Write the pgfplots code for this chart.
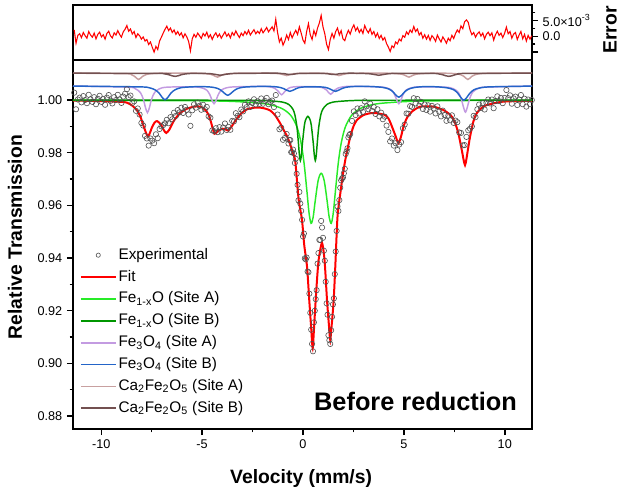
\documentclass[border=0pt]{standalone}
\usepackage{pgfplots}
\usepackage{pgfplotstable}
\pgfplotsset{compat=1.18}
\usepackage{fontspec}
\setmainfont{Liberation Sans}

\definecolor{fitred}{RGB}{255,0,0}
\definecolor{feoA}{RGB}{40,235,40}
\definecolor{feoB}{RGB}{0,150,0}
\definecolor{magA}{RGB}{195,155,225}
\definecolor{magB}{RGB}{35,100,200}
\definecolor{cfoA}{RGB}{200,160,160}
\definecolor{cfoB}{RGB}{115,80,80}
\definecolor{datgray}{RGB}{80,80,80}

% experimental spectrum
\pgfplotstableread{
x y
-11.34 1.0028
-11.25 0.9965
-11.16 1.0002
-11.07 1.0009
-10.98 0.9991
-10.89 1.0015
-10.80 1.0000
-10.71 0.9988
-10.62 1.0020
-10.53 1.0003
-10.44 0.9993
-10.35 1.0011
-10.26 0.9984
-10.17 1.0005
-10.08 1.0016
-9.99 0.9993
-9.90 1.0004
-9.81 0.9982
-9.72 1.0009
-9.63 1.0019
-9.54 0.9997
-9.45 0.9987
-9.36 1.0011
-9.27 1.0000
-9.18 1.0020
-9.09 1.0002
-9.00 0.9989
-8.91 1.0013
-8.82 1.0024
-8.73 1.0041
-8.64 1.0011
-8.55 1.0017
-8.46 0.9989
-8.37 0.9995
-8.28 0.9959
-8.19 0.9968
-8.10 0.9945
-8.01 0.9913
-7.92 0.9903
-7.83 0.9864
-7.74 0.9854
-7.65 0.9827
-7.56 0.9854
-7.47 0.9846
-7.38 0.9836
-7.29 0.9870
-7.20 0.9855
-7.11 0.9890
-7.02 0.9900
-6.93 0.9905
-6.84 0.9912
-6.75 0.9925
-6.66 0.9912
-6.57 0.9935
-6.48 0.9927
-6.39 0.9952
-6.30 0.9940
-6.21 0.9962
-6.12 0.9953
-6.03 0.9971
-5.94 0.9951
-5.85 0.9974
-5.76 0.9963
-5.67 0.9945
-5.58 0.9902
-5.49 0.9961
-5.40 0.9984
-5.31 0.9971
-5.22 0.9990
-5.13 0.9978
-5.04 0.9963
-4.95 0.9982
-4.86 0.9965
-4.77 0.9974
-4.68 0.9938
-4.59 0.9933
-4.50 0.9885
-4.41 0.9882
-4.32 0.9893
-4.23 0.9878
-4.14 0.9897
-4.05 0.9880
-3.96 0.9896
-3.87 0.9911
-3.78 0.9886
-3.69 0.9898
-3.60 0.9887
-3.51 0.9921
-3.42 0.9919
-3.33 0.9950
-3.24 0.9940
-3.15 0.9935
-3.06 0.9964
-2.97 0.9957
-2.88 0.9982
-2.79 0.9973
-2.70 0.9995
-2.61 0.9974
-2.52 0.9989
-2.43 1.0003
-2.34 0.9983
-2.25 0.9995
-2.16 0.9985
-2.07 1.0006
-1.98 0.9986
-1.89 0.9997
-1.80 1.0008
-1.71 0.9984
-1.62 0.9993
-1.53 0.9998
-1.44 0.9973
-1.35 1.0019
-1.26 0.9945
-1.17 0.9889
-1.08 0.9895
-0.99 0.9849
-0.90 0.9856
-0.81 0.9871
-0.72 0.9835
-0.63 0.9848
-0.54 0.9802
-0.45 0.9797
-0.36 0.9777
-0.27 0.9678
-0.18 0.9651
-0.09 0.9579
0.00 0.9482
0.09 0.9399
0.18 0.9402
0.27 0.9346
0.36 0.9192
0.45 0.9074
0.54 0.9156
0.63 0.9244
0.72 0.9379
0.81 0.9469
0.90 0.9541
0.99 0.9477
1.08 0.9390
1.17 0.9228
1.26 0.9107
1.35 0.9074
1.44 0.9177
1.53 0.9247
1.62 0.9425
1.71 0.9596
1.80 0.9620
1.89 0.9695
1.98 0.9706
2.07 0.9739
2.16 0.9805
2.25 0.9858
2.34 0.9871
2.43 0.9921
2.52 0.9957
2.61 0.9943
2.70 0.9968
2.79 0.9949
2.88 0.9969
2.97 0.9955
3.06 0.9995
3.15 0.9976
3.24 0.9965
3.33 0.9986
3.42 0.9959
3.51 0.9973
3.60 0.9947
3.69 0.9965
3.78 0.9938
3.87 0.9952
3.96 0.9927
4.05 0.9937
4.14 0.9903
4.23 0.9879
4.32 0.9843
4.41 0.9854
4.50 0.9827
4.59 0.9836
4.68 0.9810
4.77 0.9831
4.86 0.9840
4.95 0.9893
5.04 0.9907
5.13 0.9949
5.22 0.9948
5.31 0.9977
5.40 0.9974
5.49 1.0007
5.58 0.9987
5.67 1.0004
5.76 0.9979
5.85 0.9993
5.94 0.9966
6.03 0.9983
6.12 0.9962
6.21 0.9980
6.30 0.9956
6.39 0.9978
6.48 0.9968
6.57 0.9949
6.66 0.9976
6.75 0.9956
6.84 0.9938
6.93 0.9960
7.02 0.9943
7.11 0.9921
7.20 0.9941
7.29 0.9923
7.38 0.9942
7.47 0.9913
7.56 0.9922
7.65 0.9916
7.74 0.9877
7.83 0.9875
7.92 0.9828
8.01 0.9829
8.10 0.9860
8.19 0.9885
8.28 0.9891
8.37 0.9900
8.46 0.9940
8.55 0.9935
8.64 0.9965
8.73 0.9983
8.82 0.9970
8.91 0.9988
9.00 0.9964
9.09 0.9989
9.18 1.0002
9.27 0.9987
9.36 1.0002
9.45 0.9969
9.54 0.9996
9.63 1.0014
9.72 0.9996
9.81 1.0008
9.90 0.9988
9.99 1.0008
10.08 1.0038
10.17 1.0007
10.26 1.0018
10.35 0.9986
10.44 1.0006
10.53 1.0013
10.62 0.9981
10.71 1.0002
10.80 1.0019
10.89 0.9984
10.98 1.0005
11.07 0.9975
11.16 1.0002
11.25 0.9984
11.34 1.0000
-0.675 0.9848
-0.585 0.9802
-0.495 0.9812
-0.405 0.9761
-0.315 0.9720
-0.225 0.9619
-0.135 0.9607
-0.045 0.9545
0.045 0.9493
0.135 0.9395
0.225 0.9349
0.315 0.9265
0.405 0.9128
0.495 0.9046
0.585 0.9200
0.675 0.9278
0.765 0.9419
0.855 0.9469
0.945 0.9516
1.035 0.9428
1.125 0.9310
1.215 0.9185
1.305 0.9088
1.395 0.9126
1.485 0.9224
1.575 0.9339
1.665 0.9503
1.755 0.9579
1.845 0.9667
1.935 0.9702
2.025 0.9722
2.115 0.9795
2.205 0.9817
2.295 0.9867
}\expdata

% residual, in units of 1e-3
\pgfplotstableread{
x e
-11.34 2.0
-11.25 -2.2
-11.16 0.3
-11.07 0.8
-10.98 -0.4
-10.89 1.2
-10.80 0.2
-10.71 -0.6
-10.62 1.5
-10.53 0.4
-10.44 -0.3
-10.35 1.0
-10.26 -0.8
-10.17 0.6
-10.08 1.3
-9.99 -0.2
-9.90 0.5
-9.81 -0.9
-9.72 0.9
-9.63 1.6
-9.54 0.1
-9.45 -0.5
-9.36 1.1
-9.27 0.4
-9.18 1.8
-9.09 0.6
-9.00 -0.3
-8.91 1.4
-8.82 2.2
-8.73 3.4
-8.64 1.6
-8.55 2.3
-8.46 0.7
-8.37 1.5
-8.28 -0.4
-8.19 0.8
-8.10 0.2
-8.01 -0.9
-7.92 -0.2
-7.83 -1.5
-7.74 -1.0
-7.65 -2.6
-7.56 -1.8
-7.47 -3.5
-7.38 -5.0
-7.29 -3.2
-7.20 -4.2
-7.11 -1.5
-7.02 -0.3
-6.93 1.0
-6.84 2.2
-6.75 3.2
-6.66 1.8
-6.57 2.6
-6.48 1.2
-6.39 2.0
-6.30 0.6
-6.21 1.5
-6.12 0.3
-6.03 1.1
-5.94 -0.5
-5.85 0.8
-5.76 -0.2
-5.67 -1.6
-5.58 -4.6
-5.49 -0.8
-5.40 0.6
-5.31 -0.3
-5.22 1.0
-5.13 0.2
-5.04 -0.7
-4.95 0.9
-4.86 0.1
-4.77 1.3
-4.68 -0.4
-4.59 0.5
-4.50 -1.0
-4.41 0.3
-4.32 1.1
-4.23 -0.2
-4.14 0.7
-4.05 -0.6
-3.96 0.4
-3.87 1.4
-3.78 0.0
-3.69 0.8
-3.60 -0.5
-3.51 1.2
-3.42 0.3
-3.33 1.7
-3.24 0.5
-3.15 -0.4
-3.06 1.0
-2.97 0.2
-2.88 1.5
-2.79 0.6
-2.70 1.9
-2.61 0.4
-2.52 1.3
-2.43 2.1
-2.34 0.8
-2.25 1.6
-2.16 0.9
-2.07 2.4
-1.98 1.1
-1.89 1.9
-1.80 2.8
-1.71 1.4
-1.62 2.2
-1.53 3.0
-1.44 1.7
-1.35 5.4
-1.26 1.2
-1.17 -1.8
-1.08 -0.6
-0.99 -2.8
-0.90 -1.5
-0.81 0.4
-0.72 -1.0
-0.63 1.2
-0.54 -0.5
-0.45 0.8
-0.36 1.9
-0.27 0.6
-0.18 3.0
-0.09 1.0
0.00 -1.2
0.09 -2.2
0.18 1.5
0.27 4.0
0.36 0.5
0.45 -1.0
0.54 1.8
0.63 0.2
0.72 2.6
0.81 4.2
0.90 6.6
0.99 3.0
1.08 0.8
1.17 -2.5
1.26 -4.2
1.35 -1.0
1.44 0.9
1.53 -0.6
1.62 1.5
1.71 2.6
1.80 0.4
1.89 1.8
1.98 -0.8
2.07 -1.4
2.16 0.5
2.25 1.9
2.34 0.7
2.43 2.5
2.52 3.6
2.61 1.8
2.70 2.8
2.79 1.2
2.88 2.2
2.97 0.9
3.06 3.4
3.15 2.0
3.24 1.1
3.33 2.4
3.42 0.6
3.51 1.5
3.60 -0.2
3.69 1.0
3.78 -0.7
3.87 0.3
3.96 -1.2
4.05 -0.4
4.14 -2.3
4.23 -3.4
4.32 -4.8
4.41 -3.0
4.50 -3.6
4.59 -1.8
4.68 -2.4
4.77 -0.9
4.86 -1.5
4.95 0.2
5.04 -0.3
5.13 1.4
5.22 0.6
5.31 2.0
5.40 1.2
5.49 3.1
5.58 1.5
5.67 2.3
5.76 0.4
5.85 1.2
5.94 -0.6
6.03 0.5
6.12 -0.9
6.21 0.3
6.30 -1.3
6.39 0.2
6.48 -0.5
6.57 -1.6
6.66 0.4
6.75 -0.8
6.84 -1.8
6.93 -0.2
7.02 -1.1
7.11 -2.2
7.20 -0.6
7.29 -1.4
7.38 0.3
7.47 -0.7
7.56 0.9
7.65 2.0
7.74 1.2
7.83 3.3
7.92 2.4
8.01 4.6
8.10 5.2
8.19 4.4
8.28 2.0
8.37 0.5
8.46 1.2
8.55 -0.3
8.64 0.8
8.73 1.4
8.82 0.1
8.91 1.0
9.00 -0.8
9.09 0.6
9.18 1.3
9.27 0.2
9.36 1.1
9.45 -1.2
9.54 0.5
9.63 1.6
9.72 0.3
9.81 1.0
9.90 -0.4
9.99 0.9
10.08 2.9
10.17 0.8
10.26 1.5
10.35 -0.6
10.44 0.7
10.53 1.2
10.62 -1.0
10.71 0.4
10.80 1.5
10.89 -0.8
10.98 0.6
11.07 -1.5
11.16 0.3
11.25 -0.9
11.34 0.2
}\errdata

\pgfplotsset{
  moss/.style={
    scale only axis, width=344.25pt,
    xmin=-11.4, xmax=11.35,
    tick align=outside,
    major tick length=4.5pt, minor tick length=2.6pt,
    every tick/.style={black, line width=1.1pt},
    axis line style={line width=1.1pt},
    tick label style={font=\fontsize{9.5}{11}\selectfont},
    /pgf/number format/assume math mode=true,
  },
  lineleg/.style={legend image code/.code={\draw[##1, line width=1.3pt] (0pt,0pt) -- (26pt,0pt);}},
  datleg/.style={legend image code/.code={\draw[##1, mark size=1.6pt] plot coordinates {(13pt,0pt)};}},
}

\begin{document}
\begin{tikzpicture}
\path[use as bounding box] (-54.75pt,-48.75pt) rectangle (413.25pt,321.75pt);

\begin{axis}[moss,
  at={(0,0)}, anchor=south west,
  height=276.75pt,
  ymin=0.8751, ymax=1.0152,
  xtick={-10,-5,0,5,10},
  minor xtick={-7.5,-2.5,2.5,7.5},
  ytick={0.88,0.90,0.92,0.94,0.96,0.98,1.00},
  minor ytick={0.89,0.91,0.93,0.95,0.97,0.99},
  xtick pos=left, ytick pos=left,
  yticklabel style={/pgf/number format/.cd, fixed, fixed zerofill, precision=2},
  xlabel={Velocity (mm/s)},
  ylabel={Relative Transmission},
  label style={font=\fontsize{14.5}{17}\selectfont\bfseries},
  xlabel style={at={(axis description cs:0.497,-0.1328)}, anchor=center},
  ylabel style={at={(axis description cs:-0.1264,0.52)}, anchor=center},
  legend cell align=left,
  legend style={draw=none, fill=none, at={(axis description cs:0.009,0.505)},
    anchor=north west, font=\fontsize{11.5}{13}\selectfont, inner sep=2pt,
    row sep=2pt, nodes={inner sep=1.6pt, text height=8.6pt, text depth=2.6pt}},
]

\addplot[only marks, mark=o, mark size=2pt, mark options={datgray, line width=0.45pt}, datleg]
  table[x=x, y=y] {\expdata};
\addlegendentry{Experimental}

\addplot[fitred, line width=1.5pt, smooth, tension=0.4, lineleg] coordinates {
(-11.4,0.9998) (-10.0,0.9996) (-9.0,0.9993) (-8.72,0.9990) (-8.45,0.9978)
(-8.22,0.9960) (-8.05,0.9935) (-7.89,0.9899) (-7.78,0.9875) (-7.69,0.9862)
(-7.60,0.9873) (-7.48,0.9897) (-7.35,0.9915) (-7.23,0.9920) (-7.05,0.9908)
(-6.90,0.9886) (-6.78,0.9875) (-6.62,0.9888) (-6.41,0.9920) (-6.10,0.9950)
(-5.75,0.9967) (-5.40,0.9975) (-5.08,0.9975) (-4.85,0.9963) (-4.67,0.9943)
(-4.52,0.9905) (-4.39,0.9872) (-4.25,0.9880) (-4.09,0.9888) (-3.90,0.9891)
(-3.72,0.9884) (-3.55,0.9898) (-3.35,0.9922) (-3.05,0.9950) (-2.77,0.9965)
(-2.40,0.9971) (-2.11,0.9971) (-1.85,0.9967) (-1.62,0.9960) (-1.38,0.9942)
(-1.12,0.9910) (-0.95,0.9885) (-0.80,0.9864) (-0.65,0.9835) (-0.50,0.9800)
(-0.38,0.9765) (-0.22,0.9625) (-0.05,0.9545) (0.06,0.9450) (0.20,0.9367)
(0.31,0.9240) (0.40,0.9140) (0.48,0.9058) (0.56,0.9153) (0.66,0.9279)
(0.77,0.9390) (0.94,0.9458) (1.07,0.9390) (1.19,0.9240) (1.29,0.9140)
(1.35,0.9089) (1.43,0.9153) (1.52,0.9240) (1.60,0.9367) (1.71,0.9557)
(1.85,0.9646) (2.01,0.9734) (2.14,0.9790) (2.34,0.9860) (2.50,0.9900)
(2.67,0.9924) (3.00,0.9943) (3.35,0.9950) (3.66,0.9950) (4.07,0.9943)
(4.25,0.9928) (4.41,0.9899) (4.58,0.9865) (4.73,0.9836) (4.86,0.9862)
(4.98,0.9899) (5.15,0.9932) (5.40,0.9956) (5.81,0.9975) (6.47,0.9975)
(6.96,0.9962) (7.20,0.9950) (7.38,0.9937) (7.55,0.9910) (7.70,0.9874)
(7.87,0.9810) (8.03,0.9753) (8.17,0.9810) (8.28,0.9861) (8.45,0.9920)
(8.61,0.9950) (8.85,0.9970) (9.11,0.9981) (9.93,0.9994) (11.4,0.9997)
};
\addlegendentry{Fit}

\addplot[feoA, line width=1.1pt, smooth, tension=0.5, lineleg] coordinates {
(-11.4,0.9999) (-7.8,0.9998) (-6,0.9998) (-4,0.9996) (-3,0.9993) (-2,0.9987)
(-1.5,0.9980) (-1,0.9966) (-0.6,0.9941) (-0.3,0.9898) (-0.1,0.9839)
(0.05,0.9762) (0.2,0.9649) (0.3,0.9571) (0.4,0.9532) (0.5,0.9554)
(0.6,0.9614) (0.75,0.9694) (0.9,0.9722) (1.05,0.9694) (1.2,0.9614)
(1.3,0.9554) (1.4,0.9532) (1.5,0.9571) (1.6,0.9649) (1.75,0.9762)
(1.9,0.9839) (2.1,0.9898) (2.4,0.9941) (2.8,0.9966) (3.3,0.9980)
(3.8,0.9987) (4.8,0.9993) (5.8,0.9996) (7.8,0.9998) (11.4,0.9999)
};
\addlegendentry{Fe\textsubscript{1-x}O (Site A)}

\addplot[feoB, line width=1.1pt, smooth, tension=0.5, lineleg] coordinates {
(-11.4,1.0000) (-3,0.9999) (-2,0.9998) (-1.5,0.9996) (-1.0,0.9992)
(-0.7,0.9983) (-0.5,0.9965) (-0.4,0.9943) (-0.3,0.9897) (-0.23,0.9840)
(-0.18,0.9793) (-0.13,0.9770) (-0.08,0.9791) (-0.03,0.9835) (0.07,0.9905)
(0.14,0.9927) (0.24,0.9938) (0.34,0.9927) (0.41,0.9905) (0.51,0.9835)
(0.56,0.9791) (0.61,0.9770) (0.66,0.9793) (0.71,0.9840) (0.78,0.9897)
(0.88,0.9943) (0.98,0.9965) (1.18,0.9983) (1.48,0.9992) (1.98,0.9996)
(2.48,0.9998) (3.48,0.9999) (11.4,1.0000)
};
\addlegendentry{Fe\textsubscript{1-x}O (Site B)}

\addplot[magA, line width=1.1pt, smooth, tension=0.5, lineleg] coordinates {
(-11.4,1.0053) (-8.71,1.0049) (-8.31,1.0043) (-8.06,1.0028) (-7.91,1.0002)
(-7.81,0.9972) (-7.71,0.9952) (-7.61,0.9972) (-7.51,1.0002) (-7.36,1.0028)
(-7.11,1.0043) (-6.71,1.0049) (-5.41,1.0050) (-5.01,1.0046) (-4.76,1.0037)
(-4.61,1.0019) (-4.51,0.9999) (-4.41,0.9986) (-4.31,0.9999) (-4.21,1.0019)
(-4.06,1.0037) (-3.81,1.0046) (-3.41,1.0050) (-2.06,1.0052) (-1.66,1.0050)
(-1.41,1.0045) (-1.26,1.0036) (-1.16,1.0027) (-1.06,1.0020) (-0.96,1.0027)
(-0.86,1.0036) (-0.71,1.0045) (-0.46,1.0050) (0.15,1.0051) (0.77,1.0050)
(1.02,1.0045) (1.17,1.0038) (1.27,1.0028) (1.37,1.0022) (1.47,1.0028)
(1.57,1.0038) (1.72,1.0045) (1.97,1.0050) (2.37,1.0052) (3.75,1.0050)
(4.15,1.0046) (4.40,1.0037) (4.55,1.0019) (4.65,0.9999) (4.75,0.9986)
(4.85,0.9999) (4.95,1.0019) (5.10,1.0037) (5.35,1.0046) (5.75,1.0050)
(7.05,1.0049) (7.45,1.0043) (7.70,1.0029) (7.85,1.0003) (7.95,0.9974)
(8.05,0.9954) (8.15,0.9974) (8.25,1.0003) (8.40,1.0029) (8.65,1.0043)
(9.05,1.0049) (11.4,1.0053)
};
\addlegendentry{Fe\textsubscript{3}O\textsubscript{4} (Site A)}

\addplot[magB, line width=1.1pt, smooth, tension=0.5, lineleg] coordinates {
(-11.4,1.0053) (-8.14,1.0050) (-7.64,1.0047) (-7.34,1.0039) (-7.14,1.0027)
(-6.99,1.0011) (-6.84,1.0001) (-6.69,1.0011) (-6.54,1.0027) (-6.34,1.0039)
(-6.04,1.0047) (-5.54,1.0050) (-5.03,1.0051) (-4.53,1.0049) (-4.23,1.0044)
(-4.03,1.0035) (-3.88,1.0025) (-3.73,1.0018) (-3.58,1.0025) (-3.43,1.0035)
(-3.23,1.0044) (-2.93,1.0049) (-2.43,1.0051) (-1.95,1.0052) (-1.45,1.0051)
(-1.15,1.0048) (-0.95,1.0043) (-0.80,1.0037) (-0.65,1.0033) (-0.50,1.0037)
(-0.35,1.0043) (-0.15,1.0048) (0.15,1.0050) (0.81,1.0050) (1.11,1.0048)
(1.31,1.0043) (1.46,1.0037) (1.61,1.0033) (1.76,1.0037) (1.91,1.0043)
(2.11,1.0048) (2.41,1.0051) (2.91,1.0052) (3.45,1.0051) (3.95,1.0048)
(4.25,1.0042) (4.45,1.0032) (4.60,1.0019) (4.75,1.0011) (4.90,1.0019)
(5.05,1.0032) (5.25,1.0042) (5.55,1.0048) (6.05,1.0051) (6.67,1.0050)
(7.17,1.0046) (7.47,1.0039) (7.67,1.0026) (7.82,1.0010) (7.97,0.9999)
(8.12,1.0010) (8.27,1.0026) (8.47,1.0039) (8.77,1.0046) (9.27,1.0050)
(11.4,1.0053)
};
\addlegendentry{Fe\textsubscript{3}O\textsubscript{4} (Site B)}

\addplot[cfoA, line width=1.1pt, smooth, tension=0.5, lineleg] coordinates {
(-11.4,1.0102) (-8.75,1.0100) (-8.50,1.0096) (-8.35,1.0090) (-8.25,1.0083)
(-8.15,1.0078) (-8.05,1.0083) (-7.95,1.0090) (-7.80,1.0096) (-7.55,1.0100)
(-7.0,1.0102) (-5.4,1.0102) (-4.84,1.0100) (-4.59,1.0098) (-4.44,1.0094)
(-4.34,1.0090) (-4.24,1.0087) (-4.14,1.0090) (-4.04,1.0094) (-3.89,1.0098)
(-3.64,1.0100) (-3.1,1.0102) (-1.9,1.0102) (-1.41,1.0101) (-1.16,1.0100)
(-1.01,1.0097) (-0.91,1.0095) (-0.81,1.0093) (-0.71,1.0095) (-0.61,1.0097)
(-0.46,1.0100) (-0.21,1.0101) (0.6,1.0102) (1.18,1.0101) (1.43,1.0100)
(1.58,1.0097) (1.68,1.0095) (1.78,1.0093) (1.88,1.0095) (1.98,1.0097)
(2.13,1.0100) (2.38,1.0101) (3.0,1.0102) (4.1,1.0102) (4.65,1.0100)
(4.90,1.0098) (5.05,1.0094) (5.15,1.0090) (5.25,1.0087) (5.35,1.0090)
(5.45,1.0094) (5.60,1.0098) (5.85,1.0100) (6.4,1.0102) (7.0,1.0102)
(7.57,1.0100) (7.82,1.0096) (7.97,1.0090) (8.07,1.0083) (8.17,1.0078)
(8.27,1.0083) (8.37,1.0090) (8.52,1.0096) (8.77,1.0100) (9.3,1.0102)
(11.4,1.0102)
};
\addlegendentry{Ca\textsubscript{2}Fe\textsubscript{2}O\textsubscript{5} (Site A)}

\addplot[cfoB, line width=1.1pt, smooth, tension=0.5, lineleg] coordinates {
(-11.4,1.0102) (-7.14,1.0101) (-6.84,1.0099) (-6.64,1.0096) (-6.49,1.0092)
(-6.34,1.0090) (-6.19,1.0092) (-6.04,1.0096) (-5.84,1.0099) (-5.54,1.0101)
(-4.9,1.0101) (-4.6,1.0100) (-4.4,1.0098) (-4.25,1.0096) (-4.1,1.0094)
(-3.95,1.0096) (-3.8,1.0098) (-3.6,1.0100) (-3.3,1.0101) (-1.43,1.0102)
(-1.13,1.0101) (-0.93,1.0100) (-0.78,1.0098) (-0.63,1.0097) (-0.48,1.0098)
(-0.33,1.0100) (-0.13,1.0101) (0.72,1.0101) (1.02,1.0101) (1.22,1.0100)
(1.37,1.0098) (1.52,1.0097) (1.67,1.0098) (1.82,1.0100) (2.02,1.0101)
(2.32,1.0102) (2.96,1.0101) (3.26,1.0100) (3.46,1.0098) (3.61,1.0096)
(3.76,1.0094) (3.91,1.0096) (4.06,1.0098) (4.26,1.0100) (4.56,1.0101)
(6.43,1.0101) (6.73,1.0099) (6.93,1.0096) (7.08,1.0092) (7.23,1.0090)
(7.38,1.0092) (7.53,1.0096) (7.73,1.0099) (8.03,1.0101) (11.4,1.0102)
};
\addlegendentry{Ca\textsubscript{2}Fe\textsubscript{2}O\textsubscript{5} (Site B)}
\end{axis}

% residual panel
\begin{axis}[moss,
  at={(0,276.75pt)}, anchor=south west,
  height=41.25pt,
  ymin=-7.5, ymax=9.9,
  xtick=\empty,
  ytick={-5,0,5},
  yticklabels={,0.0,{5.0×10\textsuperscript{-3}}},
  minor ytick={-2.5,2.5,7.5},
  ytick pos=right, yticklabel pos=right,
]
\addplot[fitred, line width=0.8pt] table[x=x, y=e] {\errdata};
\end{axis}

\node[rotate=90, font=\fontsize{14.5}{17}\selectfont\bfseries] at (402.75pt,299.25pt) {Error};
\node[font=\fontsize{19}{22}\selectfont\bfseries] at (256.9pt,21pt) {Before reduction};
\end{tikzpicture}
\end{document}
